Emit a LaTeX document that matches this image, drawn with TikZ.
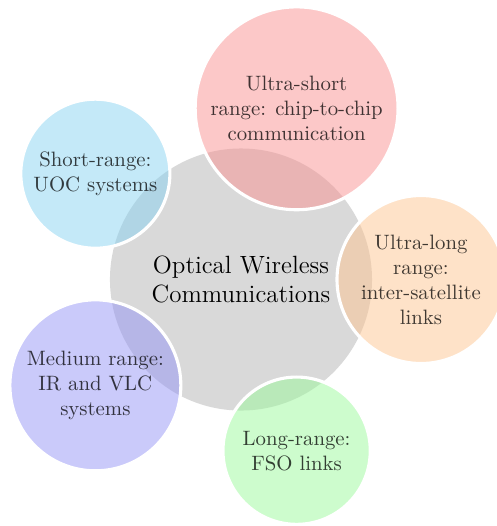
\documentclass[tikz,border=0pt]{standalone}
\usepackage{tikz}
\usetikzlibrary{calc, positioning}
\definecolor{bubblered}{RGB}{249,145,145}
\definecolor{bubblecyan}{RGB}{137,211,241}
\definecolor{bubbleorange}{RGB}{253,197,145}
\definecolor{bubbleblue}{RGB}{149,149,245}
\definecolor{bubblegreen}{RGB}{155,249,155}
\tikzset{
    core/.style ={circle, fill=black!15, minimum size=4.43cm, align=center, font=\large, inner sep=0pt},% the central bubble
    bubble/.style ={circle, draw=white, line width=1.5pt, fill opacity=0.5, draw opacity=1, text opacity=0.75, align=center, inner sep=0pt}
}
\begin{document}
\begin{tikzpicture}
            \useasboundingbox (-4.074,-4.167) rectangle (4.311,4.725);
            \node[core] (owc) at (0,0) {Optical Wireless\\Communications};
            \node[bubble, fill=bubbleorange, minimum size=2.84cm] (ultralong) at (0:3.043) {Ultra-long\\range:\\inter-satellite\\links};
            \node[bubble, fill=bubblered, minimum size=3.43cm] (ultrashort) at (72:3.043) {Ultra-short\\range: chip-to-chip\\communication};
            \node[bubble, fill=bubblecyan, minimum size=2.52cm] (short) at (144:3.043) {Short-range:\\UOC systems};
            \node[bubble, fill=bubbleblue, minimum size=2.89cm] (medium) at (216:3.043) {Medium range:\\IR and VLC\\systems};
            \node[bubble, fill=bubblegreen, minimum size=2.49cm] (long) at (288:3.043) {Long-range:\\FSO links};
        \end{tikzpicture}
\end{document}
